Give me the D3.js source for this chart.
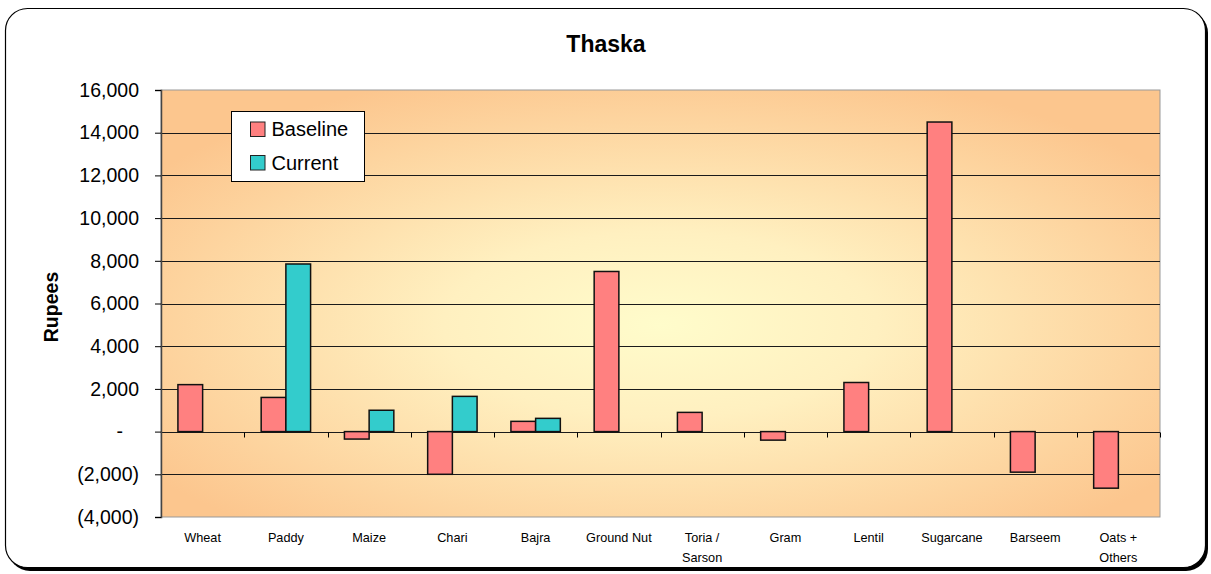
<!DOCTYPE html>
<html>
<head>
<meta charset="utf-8">
<script src="https://cdn.jsdelivr.net/npm/d3@7"></script>
<style>
  body { margin: 0; background: #fff; }
  svg { display: block; font-family: "Liberation Sans", Arial, sans-serif; }
</style>
</head>
<body>
<svg width="1211" height="574"></svg>
<script>
var crops = ["Wheat", "Paddy", "Maize", "Chari", "Bajra", "Ground Nut", "Toria / Sarson",
             "Gram", "Lentil", "Sugarcane", "Barseem", "Oats + Others"];
var baseline = [2200, 1600, -350, -2000, 480, 7500, 900, -400, 2300, 14500, -1900, -2650];
var current = [null, 7850, 1000, 1650, 620, null, null, null, null, null, null, null];
var yTicks = [-4000, -2000, 0, 2000, 4000, 6000, 8000, 10000, 12000, 14000, 16000];
var seriesNames = ["Baseline", "Current"];
var colors = ["#FF8080", "#33CCCC"];

var svg = d3.select("svg"),
    margin = { top: 90, right: 51, bottom: 57, left: 161 },
    width = +svg.attr("width") - margin.left - margin.right,
    height = +svg.attr("height") - margin.top - margin.bottom;

// outer frame with a little shadow on right/bottom
svg.append("rect")
    .attr("x", 8).attr("y", 11)
    .attr("width", 1200).attr("height", 560)
    .attr("rx", 22)
    .attr("fill", "#000");
svg.append("rect")
    .attr("x", 5.5).attr("y", 8.5)
    .attr("width", 1200).attr("height", 559)
    .attr("rx", 22)
    .attr("fill", "#fff")
    .attr("stroke", "#000")
    .attr("stroke-width", 1.2);

var defs = svg.append("defs");
var grad = defs.append("radialGradient")
    .attr("id", "bg")
    .attr("cx", "50%").attr("cy", "55%")
    .attr("r", "62%");
grad.append("stop").attr("offset", "0%").attr("stop-color", "#FFFCCB");
grad.append("stop").attr("offset", "35%").attr("stop-color", "#FFF0C0");
grad.append("stop").attr("offset", "100%").attr("stop-color", "#FCC68E");

var x0 = d3.scaleBand().domain(crops).range([0, width]).paddingInner(0).paddingOuter(0);
var x1 = d3.scaleBand().domain(seriesNames).range([0, x0.bandwidth()]).paddingInner(0).paddingOuter(0.685);
var y = d3.scaleLinear().domain([-4000, 16000]).range([height, 0]);

var g = svg.append("g")
    .attr("transform", "translate(" + margin.left + "," + margin.top + ")");

g.append("rect")
    .attr("width", width)
    .attr("height", height)
    .attr("fill", "url(#bg)")
    .attr("stroke", "#999")
    .attr("stroke-width", 1);

// gridlines
g.append("g")
    .selectAll("line")
    .data(yTicks.filter(function(d) { return d !== -4000 && d !== 16000; }))
    .enter().append("line")
    .attr("x1", 0).attr("x2", width)
    .attr("y1", function(d) { return Math.round(y(d)) + 0.5; })
    .attr("y2", function(d) { return Math.round(y(d)) + 0.5; })
    .attr("stroke", "#1a1a1a")
    .attr("stroke-width", 1);

// y axis
var fmt = function(d) {
    if (d === 0) return "-";
    var s = d3.format(",")(Math.abs(d));
    return d < 0 ? "(" + s + ")" : s;
};
var yAxis = g.append("g")
    .call(d3.axisLeft(y).tickValues(yTicks).tickFormat(fmt).tickSize(6).tickPadding(16));
yAxis.select(".domain").attr("stroke", "#444").attr("stroke-width", 1.5);
yAxis.selectAll(".tick line").attr("stroke", "#000");
yAxis.selectAll("text")
    .attr("font-size", "19.5px")
    .attr("fill", "#000")
    .attr("font-family", "Liberation Sans, Arial, sans-serif");
yAxis.selectAll(".tick").filter(function(d) { return d === 0; }).select("text").attr("dx", "-16");

// category tick marks on zero line
var zeroY = Math.round(y(0)) + 0.5;
g.append("g")
    .selectAll("line")
    .data(crops.slice(1).concat(["__end"]))
    .enter().append("line")
    .attr("x1", function(d, i) { return Math.round(x0.bandwidth() * (i + 1)) + 0.5; })
    .attr("x2", function(d, i) { return Math.round(x0.bandwidth() * (i + 1)) + 0.5; })
    .attr("y1", zeroY).attr("y2", zeroY + 5)
    .attr("stroke", "#000");

// bars
var groups = g.append("g")
    .selectAll("g")
    .data(crops)
    .enter().append("g")
    .attr("transform", function(d) { return "translate(" + x0(d) + ",0)"; });

groups.selectAll("rect")
    .data(function(d, i) {
        return [
            { key: "Baseline", value: baseline[i] },
            { key: "Current", value: current[i] }
        ].filter(function(e) { return e.value !== null; });
    })
    .enter().append("rect")
    .attr("x", function(d) { return x1(d.key); })
    .attr("width", x1.bandwidth())
    .attr("y", function(d) { return y(Math.max(0, d.value)); })
    .attr("height", function(d) { return Math.abs(y(d.value) - y(0)); })
    .attr("fill", function(d) { return colors[seriesNames.indexOf(d.key)]; })
    .attr("stroke", "#111")
    .attr("stroke-width", 1.5);

// category labels
var labels = g.append("g")
    .selectAll("text")
    .data(crops)
    .enter().append("text")
    .attr("x", function(d) { return x0(d) + x0.bandwidth() / 2; })
    .attr("y", height + 25)
    .attr("text-anchor", "middle")
    .attr("font-size", "12.7px")
    .attr("fill", "#000");
labels.each(function(d) {
    var parts = d === "Toria / Sarson" ? ["Toria /", "Sarson"] :
                d === "Oats + Others" ? ["Oats +", "Others"] : [d];
    var t = d3.select(this);
    parts.forEach(function(p, i) {
        t.append("tspan")
            .attr("x", t.attr("x"))
            .attr("dy", i === 0 ? 0 : 19.5)
            .text(p);
    });
});

// title
svg.append("text")
    .attr("x", 606).attr("y", 52)
    .attr("text-anchor", "middle")
    .attr("font-size", "23px")
    .attr("font-weight", "bold")
    .text("Thaska");

// y label
svg.append("text")
    .attr("transform", "translate(57.5,307) rotate(-90)")
    .attr("text-anchor", "middle")
    .attr("font-size", "19.5px")
    .attr("font-weight", "bold")
    .text("Rupees");

// legend
var legend = svg.append("g").attr("transform", "translate(231.5,111.5)");
legend.append("rect")
    .attr("width", 133).attr("height", 70)
    .attr("fill", "#fff")
    .attr("stroke", "#000")
    .attr("stroke-width", 1);
seriesNames.forEach(function(name, i) {
    legend.append("rect")
        .attr("x", 19).attr("y", 10.5 + i * 33.5)
        .attr("width", 14.5).attr("height", 14.5)
        .attr("fill", colors[i])
        .attr("stroke", "#222")
        .attr("stroke-width", 1);
    legend.append("text")
        .attr("x", 40).attr("y", 24.5 + i * 33.5)
        .attr("font-size", "20px")
        .text(name);
});
</script>
</body>
</html>
